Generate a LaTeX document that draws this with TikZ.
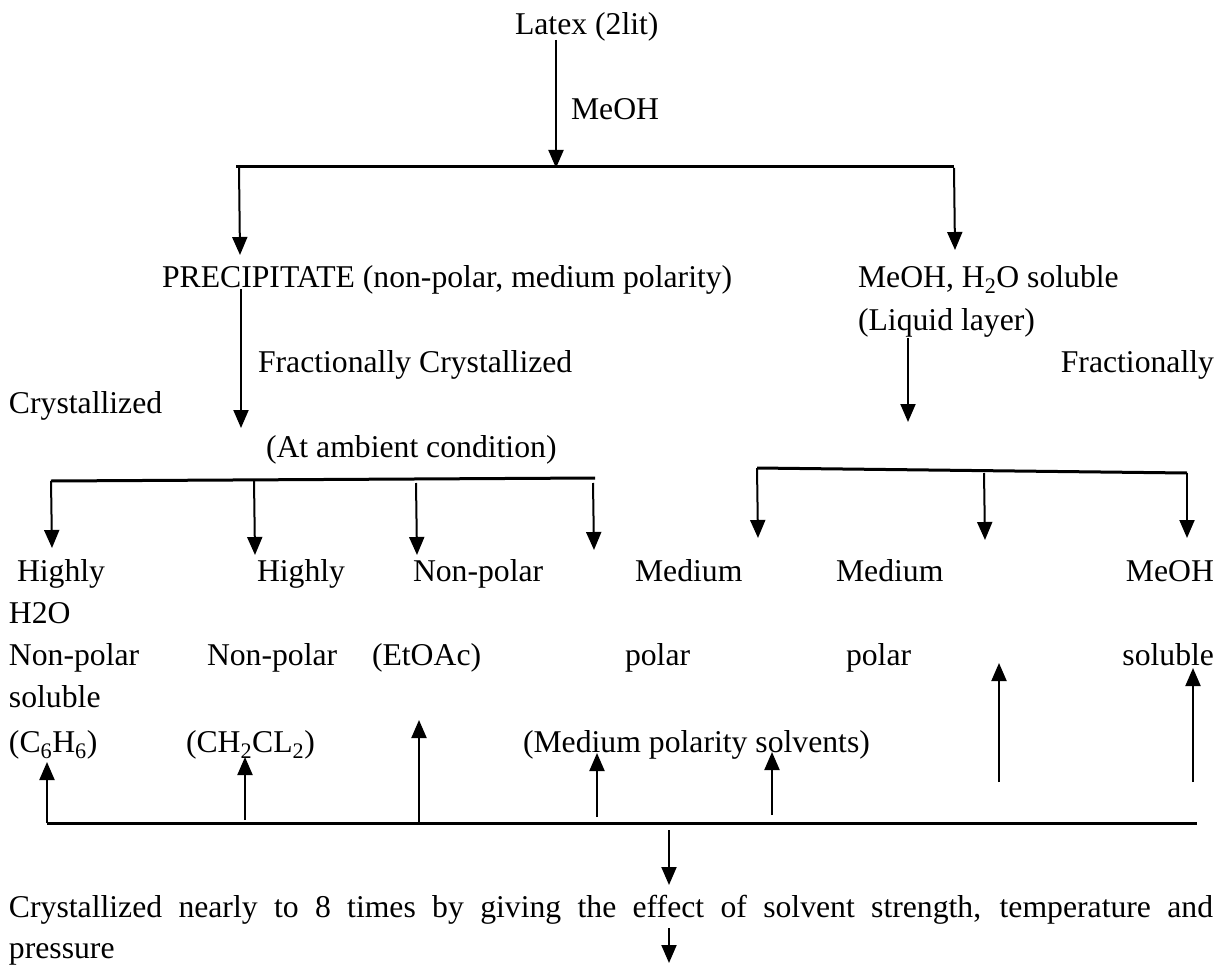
\documentclass[tikz,border=0pt]{standalone}
\usepackage{fontspec}
\setmainfont{Liberation Serif}
\usetikzlibrary{arrows.meta}
\begin{document}
\begin{tikzpicture}[x=1pt,y=-1pt,
  txt/.style={inner sep=0pt, outer sep=0pt, anchor=base west, font=\fontsize{31.7pt}{43pt}\selectfont},
  txte/.style={txt, anchor=base east},
  arr/.style={line width=2pt, -{Triangle[width=15pt,length=18pt]}},
  bar/.style={line width=3pt},
]
\useasboundingbox (0,0) rectangle (1225,968);

% ---------- texts ----------
\node[txt] (latex) at (515,35) {Latex (2lit)};
\node[txt] (meoh) at (571,120) {MeOH};
\node[txt] (precip) at (162,287) {PRECIPITATE (non-polar, medium polarity)};
\node[txt] (solmeoh) at (858,287) {MeOH, H\textsubscript{2}O soluble};
\node[txt] (liquid) at (858,330) {(Liquid layer)};
\node[txt] (fraccr) at (258,372) {Fractionally Crystallized};
\node[txte] (fracr) at (1214,372) {Fractionally};
\node[txt] (cryst) at (9,413) {Crystallized};
\node[txt] (ambient) at (266,457) {(At ambient condition)};

\node[txt] (hi1) at (17,581) {Highly};
\node[txt] (hi2) at (257,581) {Highly};
\node[txt] (np3) at (413,581) {Non-polar};
\node[txt] (med1) at (635,581) {Medium};
\node[txt] (med2) at (836,581) {Medium};
\node[txte] (meohr) at (1214,581) {MeOH};

\node[txt] (h2o) at (9,623) {H2O};

\node[txt] (np1) at (9,665) {Non-polar};
\node[txt] (np2) at (207,665) {Non-polar};
\node[txt] (etoac) at (372,665) {(EtOAc)};
\node[txt] (pol1) at (625,665) {polar};
\node[txt] (pol2) at (846,665) {polar};
\node[txte] (solr) at (1214,665) {soluble};

\node[txt] (soll) at (9,707) {soluble};

\node[txt] (c6h6) at (9,752) {(C\textsubscript{6}H\textsubscript{6})};
\node[txt] (ch2cl2) at (186,752) {(CH\textsubscript{2}CL\textsubscript{2})};
\node[txt] (medsolv) at (523,752) {(Medium polarity solvents)};

\node[txt] (final) at (9,917) {\makebox[1204pt][s]{Crystallized nearly to 8 times by giving the effect of solvent strength, temperature and}};
\node[txt] (pressure) at (9,958) {pressure};

% ---------- coordinates ----------
\coordinate (a0) at (556,40);  \coordinate (a0t) at (556,168);
\coordinate (b1l) at (236,167); \coordinate (b1r) at (954,167);
\coordinate (a1s) at (239,168); \coordinate (a1t) at (240,255);
\coordinate (a2s) at (954,168); \coordinate (a2t) at (955,250);
\coordinate (a3s) at (241,289); \coordinate (a3t) at (241,428);
\coordinate (a4s) at (908,338); \coordinate (a4t) at (908,422);

\coordinate (b2l) at (51,481); \coordinate (b2r) at (595,478);
\coordinate (l1s) at (51,481);  \coordinate (l1t) at (52,548);
\coordinate (l2s) at (254,480); \coordinate (l2t) at (255,555);
\coordinate (l3s) at (416,483); \coordinate (l3t) at (417,555);
\coordinate (l4s) at (593,483); \coordinate (l4t) at (594,550);

\coordinate (b3l) at (757,468); \coordinate (b3r) at (1187,473);
\coordinate (r1s) at (757,468);  \coordinate (r1t) at (758,538);
\coordinate (r2s) at (984,473);  \coordinate (r2t) at (985,540);
\coordinate (r3s) at (1187,473); \coordinate (r3t) at (1187,538);

\coordinate (b4l) at (47,823); \coordinate (b4r) at (1197,823);
\coordinate (u1s) at (47,823);  \coordinate (u1t) at (47,762);
\coordinate (u2s) at (245,820); \coordinate (u2t) at (245,757);
\coordinate (u3s) at (419,823); \coordinate (u3t) at (419,720);
\coordinate (u4s) at (597,817); \coordinate (u4t) at (597,753);
\coordinate (u5s) at (772,815); \coordinate (u5t) at (772,752);
\coordinate (u6s) at (999,782); \coordinate (u6t) at (999,663);
\coordinate (u7s) at (1193,782); \coordinate (u7t) at (1193,668);

\coordinate (d1s) at (669,830); \coordinate (d1t) at (669,885);
\coordinate (d2s) at (669,928); \coordinate (d2t) at (669,963);

% ---------- bars ----------
\draw[bar] (b1l) -- (b1r);
\draw[bar] (b2l) -- (b2r);
\draw[bar] (b3l) -- (b3r);
\draw[bar] (b4l) -- (b4r);

% ---------- arrows ----------
\draw[arr] (a0) -- (a0t);
\draw[arr] (a1s) -- (a1t);
\draw[arr] (a2s) -- (a2t);
\draw[arr] (a3s) -- (a3t);
\draw[arr] (a4s) -- (a4t);
\foreach \n in {l1,l2,l3,l4,r1,r2,r3,u1,u2,u3,u4,u5,u6,u7,d1,d2}
  \draw[arr] (\n s) -- (\n t);
\end{tikzpicture}
\end{document}
